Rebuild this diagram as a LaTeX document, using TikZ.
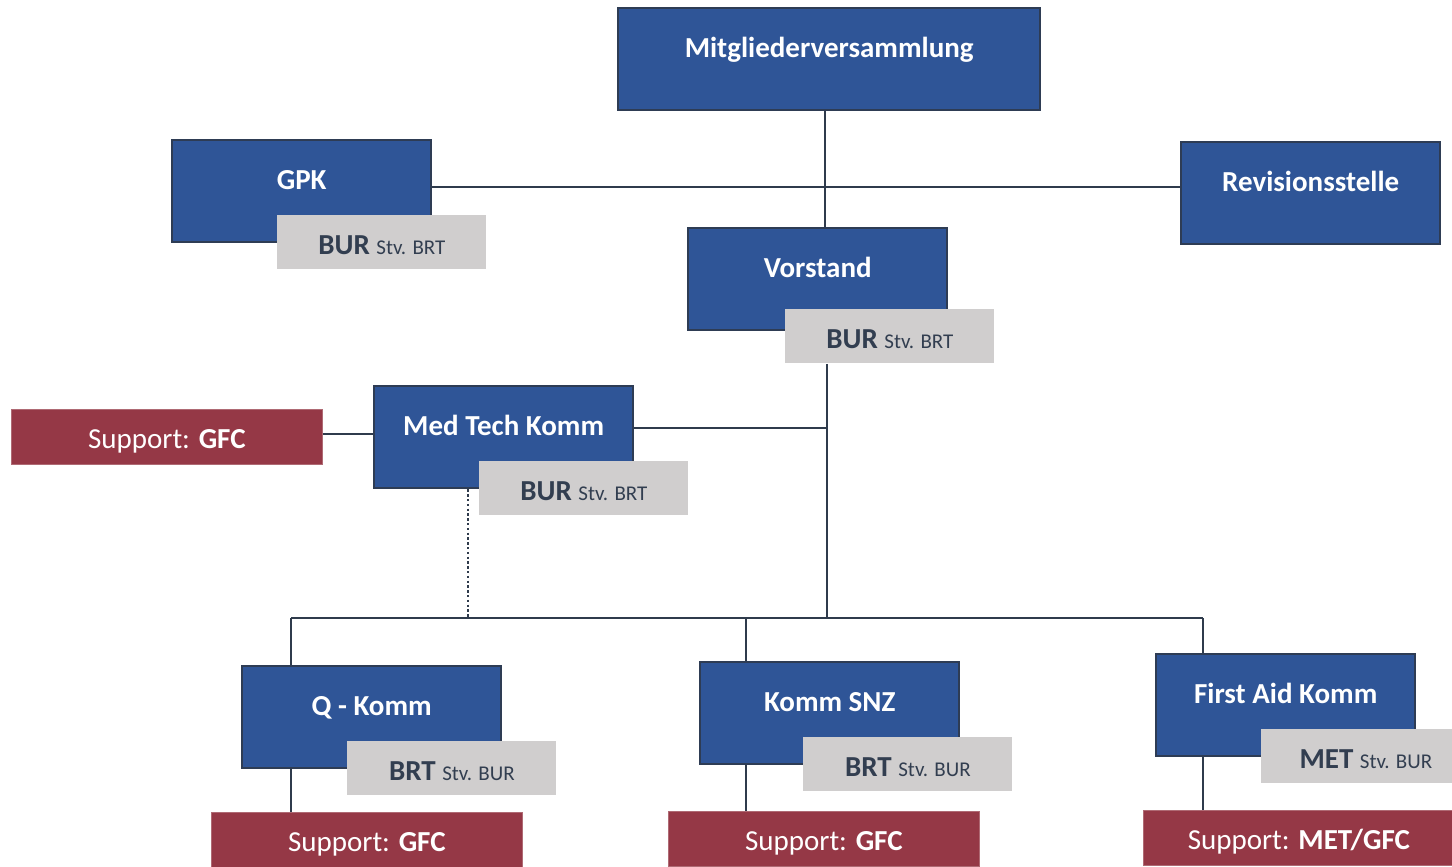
\documentclass[tikz,border=0pt]{standalone}
\usepackage{fontspec}
\setmainfont{Carlito}
\usepackage{tikz}
\usetikzlibrary{positioning}
\definecolor{orgblue}{RGB}{47, 85, 151}
\definecolor{orgedge}{RGB}{46, 60, 84}
\definecolor{supportred}{RGB}{149, 56, 70}
\definecolor{deputygray}{RGB}{208, 206, 206}
\definecolor{deputytext}{RGB}{50, 62, 80}
\definecolor{linecolor}{RGB}{47, 59, 76}
\newcommand{\deputy}[2]{\textbf{#1} {\fontsize{10.5}{12}\selectfont Stv. #2}}
\tikzset{
    org box/.style={rectangle, draw=orgedge, line width=1.2pt, fill=orgblue, text=white, font=\fontsize{14.5}{16}\selectfont\bfseries, minimum width=129.5pt, inner xsep=0pt, inner ysep=0pt, text height=24.5pt, text depth=26.5pt, anchor=north west},
    deputy box/.style={rectangle, fill=deputygray, text=deputytext, font=\fontsize{14.5}{16}\selectfont, minimum width=104.5pt, inner sep=0pt, text height=19.5pt, text depth=7.5pt, anchor=north west},
    support box/.style={rectangle, fill=supportred, draw=supportred!75!white, line width=0.4pt, text=white, font=\fontsize{14.5}{16}\selectfont, minimum width=155.5pt, inner sep=0pt, text height=19.5pt, text depth=8pt, anchor=north west},
    org line/.style={draw=linecolor, line width=1.2pt},
    link line/.style={org line, dash pattern=on 1.2pt off 1.2pt}
}
\begin{document}
\begin{tikzpicture}[x=0.5pt, y=-0.5pt]
\useasboundingbox (0,0) rectangle (1452,867);
% top level
\node[org box, minimum width=211pt] (mv) at (617,7) {Mitgliederversammlung};
\node[org box] (gpk) at (171,139) {GPK};
\node[deputy box] (gpkd) at (277,215) {\deputy{BUR}{BRT}};
\node[org box] (rev) at (1180,141) {Revisionsstelle};
\node[org box] (vs) at (687,227) {Vorstand};
\node[deputy box] (vsd) at (785,309) {\deputy{BUR}{BRT}};
% med tech
\node[org box] (mt) at (373,385) {Med Tech Komm};
\node[deputy box] (mtd) at (479,461) {\deputy{BUR}{BRT}};
\node[support box] (mts) at (11,409) {Support: \textbf{GFC}};
% commissions
\node[org box] (qk) at (241,665) {Q - Komm};
\node[deputy box] (qkd) at (347,741) {\deputy{BRT}{BUR}};
\node[support box] (qks) at (211,812) {Support: \textbf{GFC}};
\node[org box] (snz) at (699,661) {Komm SNZ};
\node[deputy box] (snzd) at (803,737) {\deputy{BRT}{BUR}};
\node[support box] (snzs) at (668,811) {Support: \textbf{GFC}};
\node[org box] (fa) at (1155,653) {First Aid Komm};
\node[deputy box] (fad) at (1261,729) {\deputy{MET}{BUR}};
\node[support box] (fas) at (1143,810) {Support: \textbf{MET/GFC}};
% connectors
\coordinate (hub) at (827,618);
\coordinate (qtop) at (291,618);
\coordinate (snztop) at (746,618);
\coordinate (fatop) at (1203,618);
\coordinate (mtlink) at (468,618);
\draw[org line] (mv.south -| 825,0) -- (vs.north -| 825,0);
\draw[org line] ([yshift=2pt]gpk.east) -- ([yshift=2pt]gpk.east -| rev.west);
\draw[org line] (vsd.south -| hub) -- (hub);
\draw[org line] ([yshift=4.5pt]mt.east) -- ([yshift=4.5pt]mt.east -| hub);
\draw[org line] ([yshift=1.5pt]mts.east) -- ([yshift=1.5pt]mts.east -| mt.west);
\draw[link line] (mt.south -| mtlink) -- (mtlink);
\draw[org line] (qtop) -- (fatop);
\draw[org line] (qtop) -- (qtop |- qk.north);
\draw[org line] (snztop) -- (snztop |- snz.north);
\draw[org line] (fatop) -- (fatop |- fa.north);
\draw[org line] (qk.south -| qtop) -- (qks.north -| qtop);
\draw[org line] (snz.south -| snztop) -- (snzs.north -| snztop);
\draw[org line] (fa.south -| fatop) -- (fas.north -| fatop);
\end{tikzpicture}
\end{document}
